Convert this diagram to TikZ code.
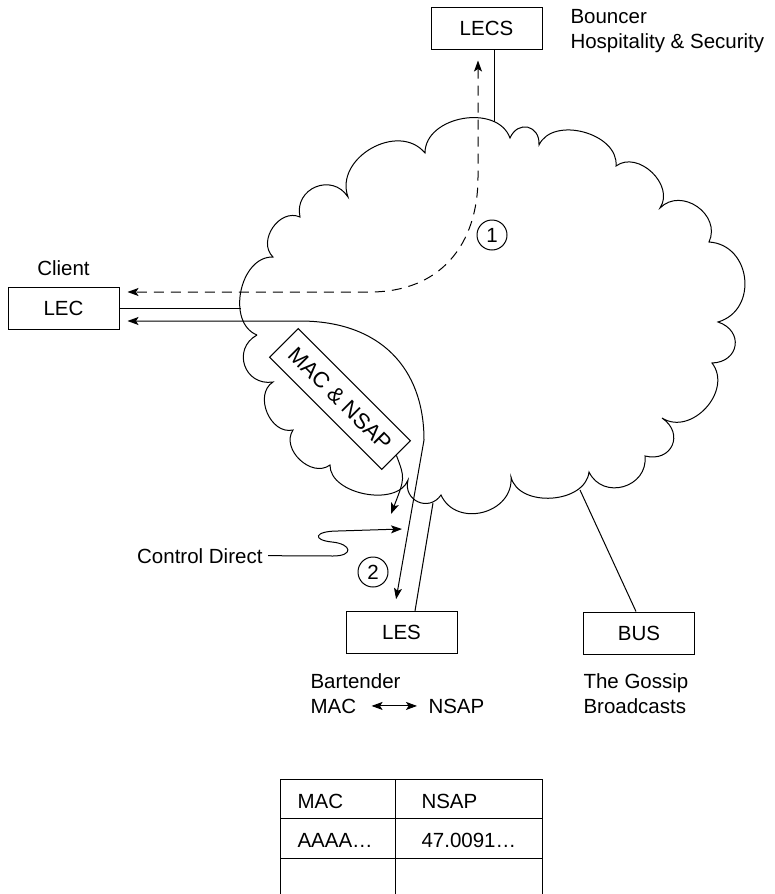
\documentclass[tikz,border=0pt]{standalone}
\usepackage{fontspec}
\setmainfont{Liberation Sans}
\usetikzlibrary{arrows.meta}

\begin{document}
\begin{tikzpicture}[>={Stealth[length=11pt, width=8pt, inset=2.5pt]}, x=1pt, y=-1pt, line width=1pt,
  font=\fontsize{20.5}{25}\selectfont,
  box/.style={draw, minimum width=111pt, minimum height=42pt, inner sep=0pt},
  num/.style={draw, circle, minimum size=30pt, inner sep=0pt},
  lbl/.style={anchor=north west, align=left, inner sep=0pt},
  txt/.style={anchor=base west, inner sep=0pt},
  bump/.style={bend left=80, looseness=#1}, bump/.default=1.3]
\useasboundingbox (0,0) rectangle (775,894);

% the network cloud
\draw (257,335) to[bump=1.07] (273,257) to[bump=1.2] (300,217) to[bump=1.45] (348,197)
  to[bump=1.2] (425,153) to[bump=1.1] (510,138) to[bump=1.7] (539,145)
  to[bump=1.05] (616,166) to[bump=1.15] (660,208) to[bump=1.3] (709,242)
  to[bump=1.35] (718,322) to[bump=1.7] (712,363) to[bump=1.2] (662,418)
  to[bump=1.7] (645,456) to[bump=1.4] (589,472) to[bump=1.05] (511,477)
  to[bump=1.3] (441,495) to[bump=1.5] (408,480) to[bump=0.95] (330,465)
  to[bump=1.15] (293,430) to[bump=1.15] (273,382) to[bump=1.5] (257,335);
\coordinate (cloudtop) at (494,122);
\coordinate (cloudwest) at (241,308);
\coordinate (cloudles) at (433,503);
\coordinate (cloudbus) at (580,490);

% servers and client
\node[box] (lecs) at (486.5,28) {LECS};
\node[box] (lec) at (63.5,308) {LEC};
\node[box] (les) at (401.5,632.5) {LES};
\node[box] (bus) at (639,633) {BUS};

\node[lbl] (bouncer) at (570,8.5) {Bouncer\\Hospitality \& Security};
\node[inner sep=0pt] (client) at (63.5,268.5) {Client};
\node[txt] (bartender) at (310,688) {Bartender};
\node[txt] (mac) at (310,713) {MAC};
\node[txt] (nsap) at (428,713) {NSAP};
\node[lbl] (gossip) at (583,673) {The Gossip\\Broadcasts};

\node[num] (n1) at (492,235) {1};
\node[num] (n2) at (373,572) {2};
\node[draw, rotate=-45, minimum width=158.5pt, minimum height=40.5pt, inner sep=0pt,
  font=\fontsize{22}{25}\selectfont] (macnsap) at (340,399) {MAC \& NSAP};
\node[anchor=base east, inner sep=0pt] (ctrl) at (263,563) {Control Direct};

% links into the cloud
\draw ([xshift=7.5pt]lecs.south) -- (cloudtop);
\draw (lec.east) -- (cloudwest);
\draw ([xshift=13.5pt]les.north) -- (cloudles);
\draw ([xshift=-3pt]bus.north) -- (cloudbus);

% step 1 and step 2
\draw[<->, dash pattern=on 10pt off 7pt, shorten <=11pt, shorten >=8pt] ([xshift=-8.5pt]lecs.south) -- (478,177)
  .. controls (478,245) and (440,292) .. (370,292) -- ([yshift=16pt]lec.east);
\draw[<->, shorten <=8pt, shorten >=12pt] ([yshift=-13pt]lec.east) -- (300,321)
  .. controls (380,321) and (424,368) .. (424,440) -- ([xshift=-7.5pt]les.north);

\coordinate (dirtip) at (391,514);
\coordinate (ctip) at (402,529);
\draw[->] (macnsap.east) .. controls (405,478) .. (dirtip);
\draw[->] ([xshift=5pt]ctrl.east) -- (333,556) .. controls (354,556) and (352,544) .. (332,542)
  .. controls (312,540) and (314,531) .. (338,531) -- (ctip);
\draw[<->, shorten <=15pt, shorten >=11pt] (mac.east) -- (nsap.west);

% address table
\draw (280,894) |- (542,779) -- (542,894);
\draw (395.5,779) -- (395.5,894);
\draw (280,818) -- (542,818);
\draw (280,858) -- (542,858);
\node[txt] (tmac) at (297,808) {MAC};
\node[txt] (tnsap) at (421,808) {NSAP};
\node[txt] (taaaa) at (297,847) {AAAA…};
\node[txt] (tnum) at (421,847) {47.0091…};
\end{tikzpicture}
\end{document}
